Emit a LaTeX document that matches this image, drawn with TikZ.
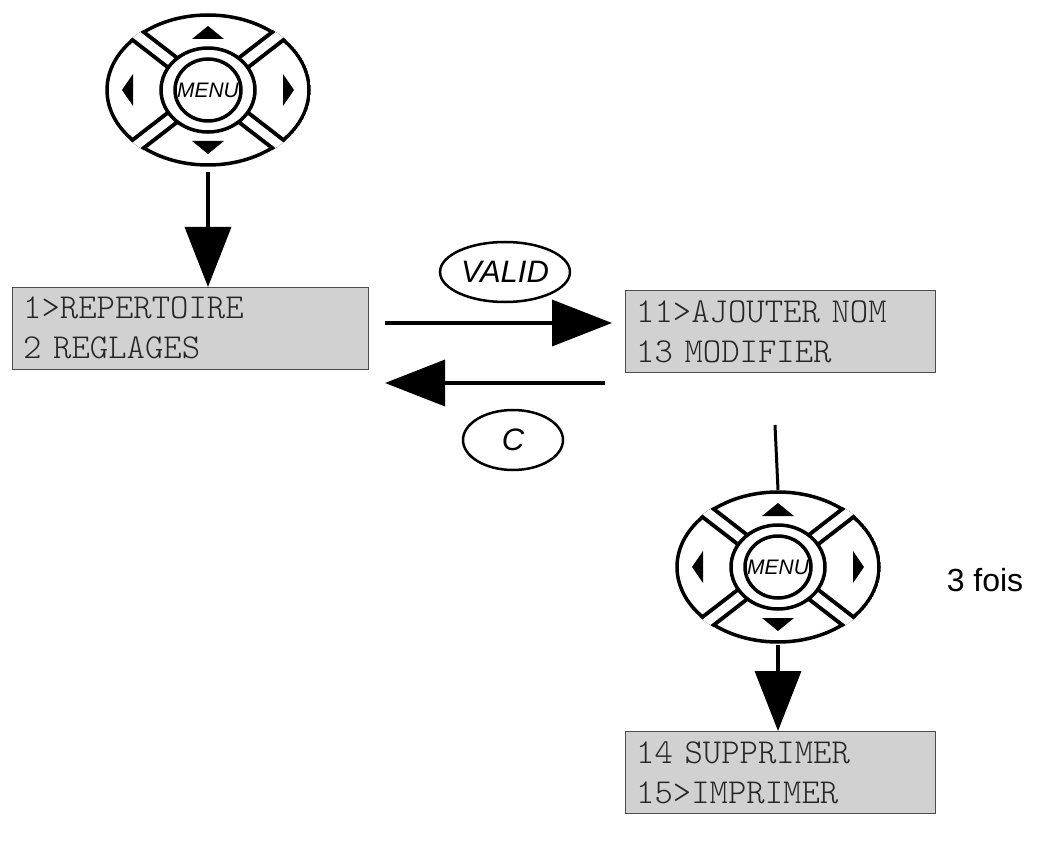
\documentclass[tikz,border=0pt]{standalone}
\usepackage{fontspec}
\setmainfont{Liberation Sans}
\usetikzlibrary{arrows.meta,shapes.geometric}
\tikzset{
 lcd/.style={draw=black!70,fill=black!18,minimum width=#1,text width=#1-22pt,minimum height=78pt,align=left,inner sep=10pt,font=\ttfamily\fontseries{l}\fontsize{35}{40}\selectfont,text=black!85},
 big/.style={line width=3.5pt,-{Triangle[length=60pt,width=46pt]}},
 key/.style={draw,line width=2.5pt,ellipse,font=\itshape\fontsize{31}{32}\selectfont,inner sep=2pt},
}
\newcommand{\keypad}[2]{%
 \begin{scope}[shift={(#1,#2)}]
  \fill[white] (0,0) ellipse (103 and 77);
  \begin{scope}
   \clip (0,0) ellipse (103 and 77);
   \draw[line width=17pt] (-110,-85)--(110,85) (-110,85)--(110,-85);
   \draw[line width=3.5pt] (0,0) ellipse (101 and 75);
   \draw[line width=9pt,white] (-110,-85)--(110,85) (-110,85)--(110,-85);
  \end{scope}
  \draw[line width=3.5pt,fill=white] (0,0) ellipse (47 and 42);
  \draw[line width=3.5pt,fill=white] (0,0) ellipse (33 and 31);
  \node[font=\itshape\fontsize{21}{21}\selectfont] at (0,0) {MENU};
  \fill (-16,-51)--(16,-51)--(0,-64)--cycle;
  \fill (-16,51)--(16,51)--(0,64)--cycle;
  \fill (-75,-16)--(-75,16)--(-86,0)--cycle;
  \fill (75,-16)--(75,16)--(86,0)--cycle;
 \end{scope}}
\begin{document}
\begin{tikzpicture}[x=1pt,y=-1pt]
\useasboundingbox[fill=white] (0,0) rectangle (1042,845);
\keypad{208}{90}
\keypad{778}{567}
\coordinate (k1) at (208,172);
\coordinate (k2t) at (778,490);
\coordinate (k2) at (778,645);
\node[lcd=356pt,anchor=north west] (b1) at (12,287) {1>REPERTOIRE\\2 REGLAGES};
\node[lcd=310pt,anchor=north west] (b2) at (625,290) {11>AJOUTER NOM\\13 MODIFIER};
\node[lcd=310pt,anchor=north west] (b3) at (625,731) {14 SUPPRIMER\\15>IMPRIMER};
\draw[big] (k1) -- (b1.north -| k1);
\coordinate (r1) at (385,323); \coordinate (r2) at (612,323);
\coordinate (l1) at (605,383); \coordinate (l2) at (385,383);
\draw[big] (r1) -- (r2);
\draw[big] (l1) -- (l2);
\node[key,minimum width=118pt,minimum height=60pt] (valid) at (505,272) {VALID};
\node[key,minimum width=100pt,minimum height=60pt] (c) at (513,440) {C};
\draw[line width=3pt] (775,425) -- (k2t);
\draw[big] (k2) -- (b3.north -| k2);
\node[font=\fontsize{32}{34}\selectfont] (f) at (985,580) {3 fois};
\end{tikzpicture}
\end{document}
